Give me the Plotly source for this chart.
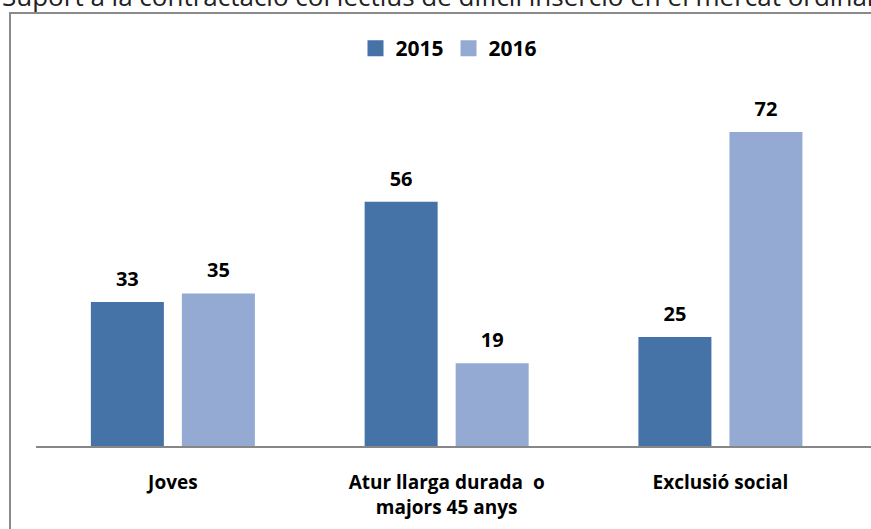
import plotly.graph_objects as go

categories = ["Joves", "Atur llarga durada\u00a0 o<br>majors 45 anys", "Exclusió social"]
series_names = ["2015", "2016"]
values_2015 = [33, 56, 25]
values_2016 = [35, 19, 72]
colors = ["#4572A7", "#95AAD3"]
title_text = "Suport a la contractació col·lectius de difícil inserció en el mercat ordinari"

FONT = "Open Sans"
W, H = 871, 529
ML, MR, MT, MB = 36, 0, 100, 83

fig = go.Figure()
for name, vals, col in zip(series_names, [values_2015, values_2016], colors):
    fig.add_trace(go.Bar(
        x=categories, y=vals, name=name, marker=dict(color=col, line=dict(width=0)),
        showlegend=False, offsetgroup=name,
    ))
for name, vals, col in zip(series_names, [values_2015, values_2016], colors):
    fig.add_trace(go.Scatter(
        x=categories, y=vals, mode="markers+text", text=[str(v) for v in vals],
        marker=dict(size=16, opacity=0, color=col),
        textposition="top center", textfont=dict(family=FONT, size=20, color="#000", weight="bold"),
        showlegend=False, cliponaxis=False, offsetgroup=name, hoverinfo="skip",
    ))
for name, col in zip(series_names, colors):
    fig.add_trace(go.Scatter(
        x=[None], y=[None], mode="markers", name=name,
        marker=dict(symbol="square", size=17, color=col),
    ))

plot_w = W - ML - MR
plot_h = H - MT - MB

fig.update_layout(
    width=W, height=H,
    margin=dict(l=ML, r=MR, t=MT, b=MB),
    paper_bgcolor="white", plot_bgcolor="white",
    barmode="group", bargap=0.335, bargroupgap=0.198,
    scattermode="group", scattergap=0.335,
    font=dict(family=FONT, color="#000"),
    title=dict(text=title_text, x=2 / W, xanchor="left", xref="container",
               y=1 - 6 / H, yanchor="bottom", yref="container",
               font=dict(family=FONT, size=26, color="#222")),
    legend=dict(orientation="h", xref="container", x=449 / W, xanchor="center",
                yref="container", y=1 - 28 / H, yanchor="top",
                font=dict(family=FONT, size=21, color="#000", weight="bold"),
                itemwidth=30, tracegroupgap=0, bgcolor="rgba(0,0,0,0)"),
    xaxis=dict(range=[-0.5, 2.55], showgrid=False, zeroline=False,
               showline=True, linecolor="#878787", linewidth=2,
               ticks="", tickfont=dict(family=FONT, size=19, color="#000", weight="bold"),
               ticklabelstandoff=18, fixedrange=True),
    yaxis=dict(range=[0, plot_h / 4.36], showgrid=False, zeroline=False,
               showline=False, showticklabels=False, ticks="", fixedrange=True),
    showlegend=True,
)

# outer chart frame
fig.add_shape(type="rect", xref="paper", yref="paper",
              x0=(10 - ML) / plot_w, x1=1.05,
              y0=-0.5, y1=(H - MB - 13) / plot_h,
              line=dict(color="#8a8a8a", width=2), fillcolor="rgba(0,0,0,0)", layer="below")

fig.write_html("out.html", config={"displayModeBar": False},
               post_script="document.body.style.margin='0';document.body.style.overflow='hidden';")
